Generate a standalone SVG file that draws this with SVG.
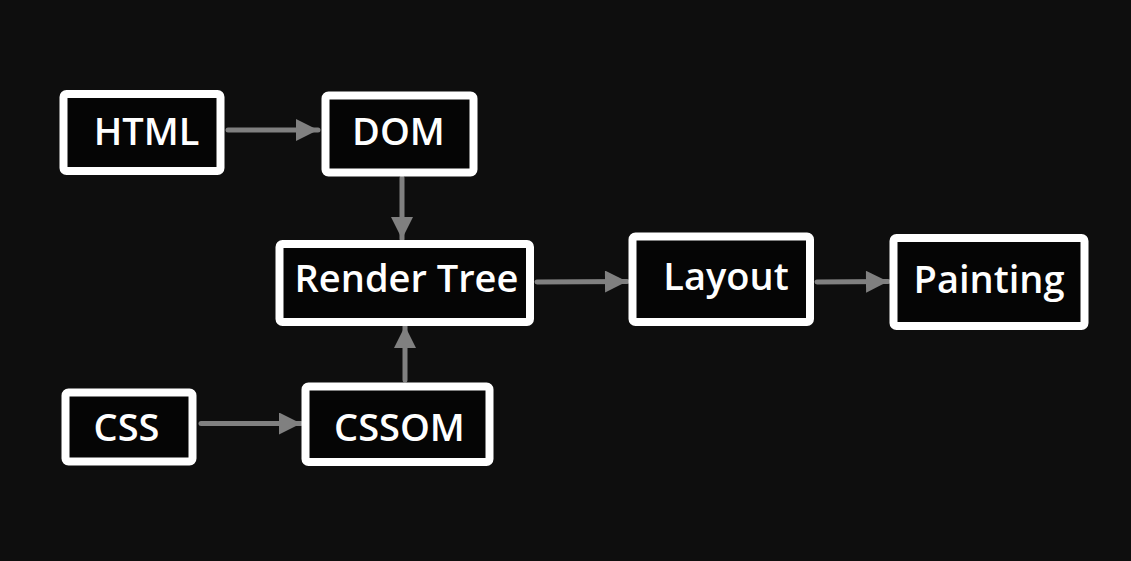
<svg xmlns="http://www.w3.org/2000/svg" width="1131" height="561" viewBox="0 0 1131 561">
<defs>
<style>
.box{fill:#050505;stroke:#ffffff;stroke-width:8}
.lbl{fill:#ffffff;font-family:"Open Sans","Noto Sans",sans-serif;font-weight:600;font-size:38px;text-anchor:middle}
.edge{stroke:#808080;stroke-width:5;stroke-linecap:round;fill:none}
</style>
<marker id="ah" viewBox="0 0 10 10" refX="10" refY="5" markerWidth="4.8" markerHeight="4.4" markerUnits="strokeWidth" orient="auto">
<path d="M0,0 L10,5 L0,10 Z" fill="#808080"/>
</marker>
</defs>
<rect width="1131" height="561" fill="#0e0e0e"/>
<g id="connectors">
<line class="edge" x1="228" y1="130" x2="318" y2="130" marker-end="url(#ah)"/>
<line class="edge" x1="402" y1="178" x2="402" y2="239" marker-end="url(#ah)"/>
<line class="edge" x1="201" y1="423.5" x2="301" y2="423.5" marker-end="url(#ah)"/>
<line class="edge" x1="405" y1="380" x2="405" y2="326" marker-end="url(#ah)"/>
<line class="edge" x1="537" y1="282" x2="627" y2="281.5" marker-end="url(#ah)"/>
<line class="edge" x1="817" y1="282" x2="888" y2="281.5" marker-end="url(#ah)"/>
</g>
<g id="html"><rect class="box" x="63.5" y="94" width="157" height="77" rx="3"/><text class="lbl" x="146.5" y="145">HTML</text></g>
<g id="dom"><rect class="box" x="325.5" y="95.5" width="148" height="77" rx="3"/><text class="lbl" x="398.5" y="145">DOM</text></g>
<g id="render"><rect class="box" x="279.5" y="244" width="250.5" height="78" rx="3"/><text class="lbl" x="406.5" y="291.5">Render Tree</text></g>
<g id="css"><rect class="box" x="65.5" y="392.5" width="127" height="69" rx="3"/><text class="lbl" x="126.5" y="441">CSS</text></g>
<g id="cssom"><rect class="box" x="305.5" y="386.5" width="184" height="75.5" rx="3"/><text class="lbl" x="399.5" y="441">CSSOM</text></g>
<g id="layout"><rect class="box" x="632.5" y="236.5" width="177.5" height="85.5" rx="3"/><text class="lbl" x="726" y="290">Layout</text></g>
<g id="painting"><rect class="box" x="893.5" y="238" width="191" height="88" rx="3"/><text class="lbl" x="989" y="292.5">Painting</text></g>
</svg>
